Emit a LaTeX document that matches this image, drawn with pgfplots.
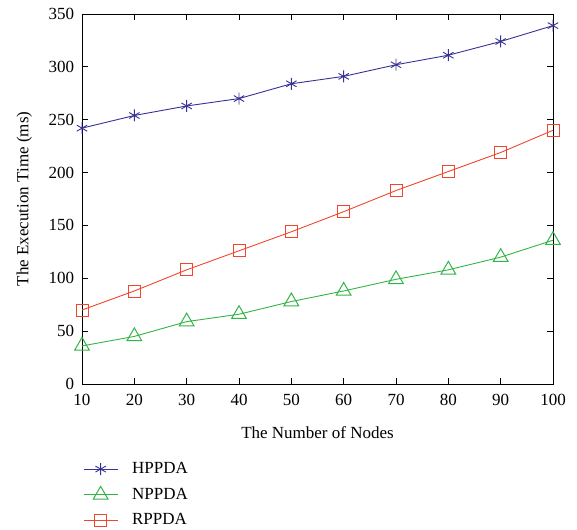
\documentclass[border=0pt]{standalone}
\usepackage{pgfplots}
\pgfplotsset{compat=1.18}
\usepackage{fontspec}
\setmainfont{Liberation Serif}
\definecolor{hblue}{RGB}{55,50,150}
\definecolor{ngreen}{RGB}{50,180,70}
\definecolor{rred}{RGB}{240,70,45}
\begin{document}
\fontsize{17}{20}\selectfont
\begin{tikzpicture}
\useasboundingbox (-82pt,-145pt) rectangle (495pt,384pt);
\begin{axis}[
  scale only axis,
  width=471pt, height=370pt,
  xmin=10, xmax=100, ymin=0, ymax=350,
  xtick={10,20,...,100}, ytick={0,50,...,350},
  /pgf/number format/assume math mode=true,
  tick label style={font=\fontsize{17}{20}\selectfont},
  xticklabel style={yshift=-4pt},
  yticklabel style={xshift=-2pt},
  label style={font=\fontsize{17}{20}\selectfont},
  xlabel={The Number of Nodes},
  ylabel={The Execution Time (ms)},
  xlabel style={yshift=-10pt},
  ylabel style={yshift=5pt},
  axis line style={line width=0.9pt},
  major tick length=6pt,
  tick style={line width=0.9pt, black},
  legend style={draw=none, at={(0,0)}, anchor=north west, xshift=-2pt, yshift=-74pt,
    font=\fontsize{17}{20}\selectfont, row sep=8pt, fill=none},
  legend cell align=left,
  legend image code/.code={\draw[mark repeat=2,mark phase=2] plot coordinates {(0pt,0pt) (17pt,0pt) (34pt,0pt)};\path (46pt,0pt);},
  every axis plot/.append style={line width=0.9pt},
]
\addplot[hblue, mark=asterisk, mark size=6pt] coordinates {
(10,242) (20,254) (30,263) (40,270) (50,284) (60,291) (70,302) (80,311) (90,324) (100,339)};
\addlegendentry{HPPDA}
\addplot[ngreen, mark=triangle, mark size=8.5pt, mark options={line width=1pt}] coordinates {
(10,36) (20,45) (30,59) (40,66) (50,78) (60,88) (70,99) (80,108) (90,120) (100,136)};
\addlegendentry{NPPDA}
\addplot[rred, mark=square, mark size=6pt] coordinates {
(10,70) (20,88) (30,108) (40,126) (50,144) (60,163) (70,183) (80,201) (90,219) (100,240)};
\addlegendentry{RPPDA}
\end{axis}
\end{tikzpicture}
\end{document}
